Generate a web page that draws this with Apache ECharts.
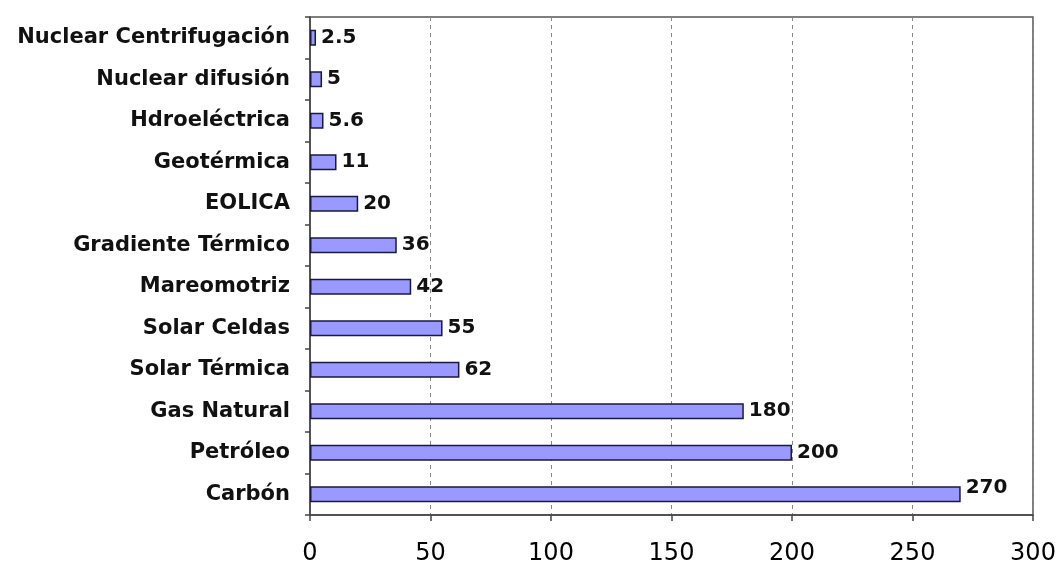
<!DOCTYPE html>
<html>
<head>
<meta charset="utf-8">
<script src="https://cdn.jsdelivr.net/npm/echarts@6/dist/echarts.min.js"></script>
<style>
  html, body { margin: 0; padding: 0; background: #fff; }
  #chart { width: 1059px; height: 567px; }
</style>
</head>
<body>
<div id="chart"></div>
<script>
const fuentes = [
  "Nuclear Centrifugación", "Nuclear difusión", "Hdroeléctrica", "Geotérmica",
  "EOLICA", "Gradiente Térmico", "Mareomotriz", "Solar Celdas",
  "Solar Térmica", "Gas Natural", "Petróleo", "Carbón"
];
const valores = [2.5, 5, 5.6, 11, 20, 36, 42, 55, 62, 180, 200, 270];
const ejeX = [0, 50, 100, 150, 200, 250, 300];

const fuente = "DejaVu Sans, Verdana, sans-serif";

const myChart = echarts.init(document.getElementById("chart"));
myChart.setOption({
  backgroundColor: "#fff",
  animation: false,
  grid: {
    left: 310, right: 26, top: 17, bottom: 52,
    show: true, borderColor: "#555", borderWidth: 1.5
  },
  xAxis: {
    type: "value",
    min: ejeX[0],
    max: ejeX[ejeX.length - 1],
    interval: 50,
    axisLine: { show: true, lineStyle: { color: "#444", width: 1.5 } },
    axisTick: { show: true, length: 6, lineStyle: { color: "#444", width: 1.5 } },
    axisLabel: { margin: 27, color: "#000", fontSize: 24, fontFamily: fuente },
    splitLine: { show: true, lineStyle: { color: "#888", type: [4, 4], width: 1 } }
  },
  yAxis: {
    type: "category",
    data: fuentes,
    inverse: true,
    axisLine: { show: true, lineStyle: { color: "#444", width: 1.5 } },
    axisTick: { show: true, length: 5, lineStyle: { color: "#444", width: 1.5 } },
    axisLabel: {
      margin: 20, color: "#111", fontSize: 21, fontWeight: "bold", fontFamily: fuente
    },
    splitLine: { show: false }
  },
  series: [
    {
      type: "bar",
      // la etiqueta de la ultima barra queda un poco arriba, como en el original
      data: valores.map((v, i) =>
        i === valores.length - 1 ? { value: v, label: { offset: [0, -6] } } : v),
      barWidth: 16,
      itemStyle: { color: "#9999FF", borderColor: "#1a1a40", borderWidth: 1.5 },
      label: {
        show: true,
        position: "right",
        distance: 5,
        color: "#111",
        fontSize: 20,
        fontWeight: "bold",
        fontFamily: fuente
      }
    }
  ]
});
</script>
</body>
</html>
